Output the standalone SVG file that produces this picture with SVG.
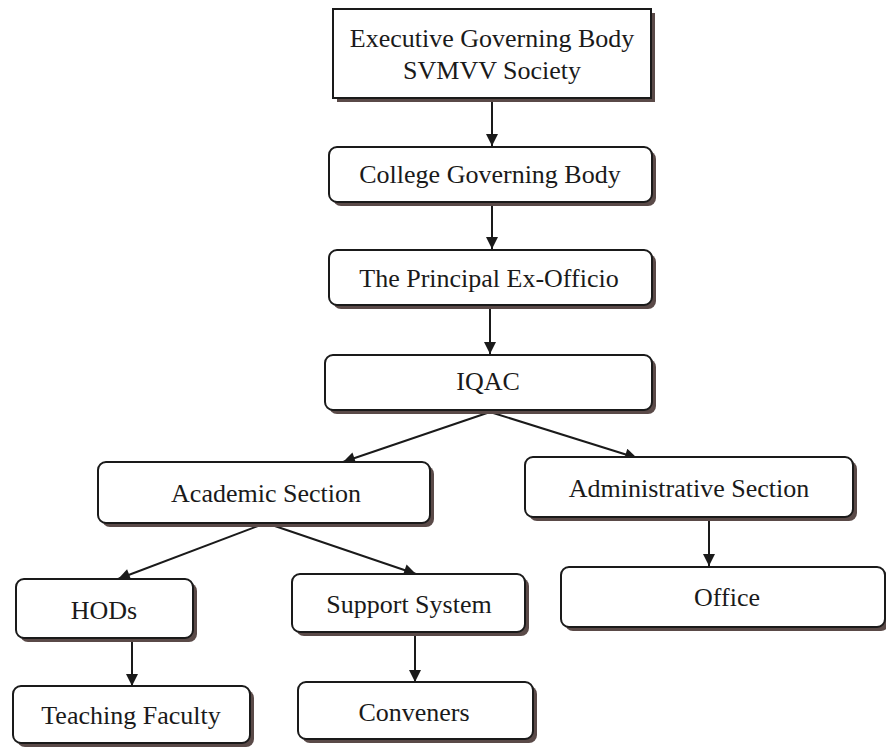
<svg xmlns="http://www.w3.org/2000/svg" width="886" height="749" viewBox="0 0 886 749">
<style>
.box{fill:#fff;stroke:#1a1a1a;stroke-width:2}
.sh{fill:#5a4a48}
.t{font-family:"Liberation Serif","Times New Roman",serif;font-size:26px;fill:#1a1a1a;text-anchor:middle}
.ln{stroke:#1a1a1a;stroke-width:2}
</style>
<defs>
<marker id="ah2" viewBox="0 0 10 10" refX="10" refY="5" markerWidth="14" markerHeight="12" markerUnits="userSpaceOnUse" orient="auto">
<path d="M0,0 L10,5 L0,10 z" fill="#1a1a1a"/>
</marker>
</defs>
<rect width="886" height="749" fill="#fff"/>
<g id="connectors">
<line class="ln" x1="492" y1="98" x2="492" y2="146" marker-end="url(#ah2)"/>
<line class="ln" x1="492" y1="202" x2="492" y2="249" marker-end="url(#ah2)"/>
<line class="ln" x1="490" y1="305" x2="490" y2="354" marker-end="url(#ah2)"/>
<line class="ln" x1="490" y1="412" x2="343" y2="462" marker-end="url(#ah2)"/>
<line class="ln" x1="490" y1="412" x2="637" y2="458" marker-end="url(#ah2)"/>
<line class="ln" x1="266" y1="523" x2="118" y2="579" marker-end="url(#ah2)"/>
<line class="ln" x1="266" y1="523" x2="416" y2="574" marker-end="url(#ah2)"/>
<line class="ln" x1="132" y1="639" x2="132" y2="686" marker-end="url(#ah2)"/>
<line class="ln" x1="415" y1="633" x2="415" y2="682" marker-end="url(#ah2)"/>
<line class="ln" x1="709" y1="518" x2="709" y2="566" marker-end="url(#ah2)"/>
</g>
<g id="executive">
<rect class="sh" x="337" y="13" width="318" height="89"/>
<rect class="box" x="333" y="9" width="318" height="89"/>
<text class="t" x="492" y="47">Executive Governing Body</text>
<text class="t" x="492" y="79">SVMVV Society</text>
</g>
<g id="college">
<rect class="sh" x="333" y="151" width="323" height="55" rx="8"/>
<rect class="box" x="329" y="147" width="323" height="55" rx="8"/>
<text class="t" x="490" y="183">College Governing Body</text>
</g>
<g id="principal">
<rect class="sh" x="333" y="254" width="323" height="55" rx="8"/>
<rect class="box" x="329" y="250" width="323" height="55" rx="8"/>
<text class="t" x="489" y="287">The Principal Ex-Officio</text>
</g>
<g id="iqac">
<rect class="sh" x="329" y="359" width="327" height="55" rx="8"/>
<rect class="box" x="325" y="355" width="327" height="55" rx="8"/>
<text class="t" x="488" y="390">IQAC</text>
</g>
<g id="academic">
<rect class="sh" x="102" y="466" width="332" height="61" rx="8"/>
<rect class="box" x="98" y="462" width="332" height="61" rx="8"/>
<text class="t" x="266" y="502">Academic Section</text>
</g>
<g id="administrative">
<rect class="sh" x="529" y="461" width="328" height="60" rx="8"/>
<rect class="box" x="525" y="457" width="328" height="60" rx="8"/>
<text class="t" x="689" y="497">Administrative Section</text>
</g>
<g id="hods">
<rect class="sh" x="20" y="583" width="177" height="59" rx="8"/>
<rect class="box" x="16" y="579" width="177" height="59" rx="8"/>
<text class="t" x="104" y="619">HODs</text>
</g>
<g id="support">
<rect class="sh" x="296" y="578" width="233" height="58" rx="8"/>
<rect class="box" x="292" y="574" width="233" height="58" rx="8"/>
<text class="t" x="409" y="613">Support System</text>
</g>
<g id="office">
<rect class="sh" x="565" y="571" width="324" height="60" rx="8"/>
<rect class="box" x="561" y="567" width="324" height="60" rx="8"/>
<text class="t" x="727" y="606">Office</text>
</g>
<g id="teaching">
<rect class="sh" x="17" y="690" width="237" height="57" rx="8"/>
<rect class="box" x="13" y="686" width="237" height="57" rx="8"/>
<text class="t" x="131" y="724">Teaching Faculty</text>
</g>
<g id="conveners">
<rect class="sh" x="302" y="686" width="235" height="57" rx="8"/>
<rect class="box" x="298" y="682" width="235" height="57" rx="8"/>
<text class="t" x="414" y="721">Conveners</text>
</g>
</svg>
